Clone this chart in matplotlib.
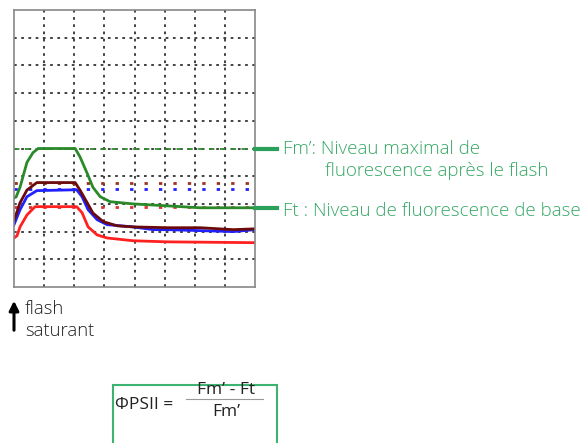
import matplotlib
matplotlib.use("Agg")
import matplotlib.pyplot as plt
from matplotlib.patches import Rectangle, FancyArrowPatch
from matplotlib.lines import Line2D

plt.rcParams['font.family'] = ['Open Sans', 'DejaVu Sans']

# Curves (x in grid divisions, y in grid divisions)
green_x = [0, 0.07, 0.2, 0.43, 0.63, 0.8, 2.03, 2.19, 2.43, 2.62, 2.86, 3.19, 3.95, 5.08, 6.18, 8.0]
green_y = [3.22, 3.25, 3.6, 4.5, 4.85, 5.0, 5.0, 4.7, 4.1, 3.6, 3.26, 3.08, 3.0, 2.93, 2.86, 2.86]

darkred_x = [0, 0.2, 0.43, 0.76, 2.03, 2.19, 2.43, 2.62, 2.96, 3.42, 3.95, 5.08, 6.18, 7.28, 8.0]
darkred_y = [2.40, 3.04, 3.50, 3.77, 3.77, 3.50, 3.04, 2.67, 2.36, 2.21, 2.17, 2.14, 2.14, 2.07, 2.10]

blue_x = [0, 0.2, 0.43, 0.76, 2.08, 2.26, 2.46, 2.76, 3.09, 3.95, 4.62, 5.08, 7.28, 8.0]
blue_y = [2.25, 2.79, 3.26, 3.48, 3.51, 3.26, 2.79, 2.43, 2.25, 2.17, 2.07, 2.07, 2.00, 2.07]

red_x = [0, 0.1, 0.2, 0.43, 0.70, 2.08, 2.26, 2.46, 2.76, 3.09, 3.95, 5.08, 8.0]
red_y = [1.77, 1.85, 2.17, 2.60, 2.90, 2.90, 2.68, 2.17, 1.88, 1.77, 1.67, 1.63, 1.60]

# Reference levels
fm_level = 5.0
darkred_level = 3.77
blue_level = 3.55
red_level = 2.90

fig = plt.figure(figsize=(5.81, 4.43), dpi=100)
W, H = 581, 443
ax = fig.add_axes([14 / W, 1 - 287 / H, (255 - 14) / W, (287 - 10) / H])
ax.set_xlim(0, 8)
ax.set_ylim(0, 10)
ax.set_xticks(range(1, 8))
ax.set_yticks(range(1, 10))
ax.tick_params(length=0, labelbottom=False, labelleft=False)
ax.grid(True, color='#333333', linestyle=(0, (1.5, 2.5)), linewidth=1.3)
for s in ax.spines.values():
    s.set_color('#888888')
    s.set_linewidth(1.2)

ax.axhline(fm_level, color='#2e8b2e', linestyle=(0, (3, 3)), linewidth=1.3)
ax.axhline(darkred_level, color='#a03020', linestyle=(0, (1.2, 4)), linewidth=2)
ax.axhline(blue_level, color='#2020ff', linestyle=(0, (1.2, 4)), linewidth=2)
ax.axhline(red_level, color='#e03030', linestyle=(0, (1.2, 4)), linewidth=2)

ax.plot(green_x, green_y, color='#2a8a2a', linewidth=2)
ax.plot(red_x, red_y, color='#ff2020', linewidth=2)
ax.plot(blue_x, blue_y, color='#2020ff', linewidth=2)
ax.plot(darkred_x, darkred_y, color='#6a0a0a', linewidth=2)

def fx(px):
    return px / W

def fy(py):
    return 1 - py / H

tc = '#35a865'
fs = 13.5
fig.add_artist(Line2D([fx(255), fx(277)], [fy(149), fy(149)], color='#2aa05a', linewidth=3))
fig.add_artist(Line2D([fx(255), fx(277)], [fy(208), fy(208)], color='#2aa05a', linewidth=3))
fig.text(fx(283), fy(149), "Fm’: Niveau maximal de", color=tc, fontsize=fs, va='center', ha='left', fontweight='light')
fig.text(fx(325), fy(171), "fluorescence après le flash", color=tc, fontsize=fs, va='center', ha='left', fontweight='light')
fig.text(fx(283), fy(211), "Ft : Niveau de fluorescence de base", color=tc, fontsize=fs, va='center', ha='left', fontweight='light')

# flash arrow
fig.add_artist(FancyArrowPatch((fx(14), fy(333)), (fx(14), fy(298)),
                               arrowstyle='-|>', mutation_scale=14, color='black', linewidth=2.2))
fig.text(fx(25), fy(309), "flash", fontsize=13.3, va='center', ha='left', color='#222222', fontweight='light')
fig.text(fx(25), fy(331), "saturant", fontsize=13.3, va='center', ha='left', color='#222222', fontweight='light')

# formula box
fig.add_artist(Rectangle((fx(113), fy(460)), fx(277) - fx(113), fy(385) - fy(460),
                         fill=False, edgecolor='#3cb371', linewidth=1.5))
fig.text(fx(115), fy(405), "ΦPSII =", fontsize=12.5, va='center', ha='left', color='#222222')
fig.text(fx(226), fy(390), "Fm’ - Ft", fontsize=12.5, va='center', ha='center', color='#222222')
fig.add_artist(Line2D([fx(186), fx(263)], [fy(399), fy(399)], color='#999999', linewidth=0.8))
fig.text(fx(226), fy(412), "Fm’", fontsize=12.5, va='center', ha='center', color='#222222')

fig.savefig("out.png", dpi=100)
